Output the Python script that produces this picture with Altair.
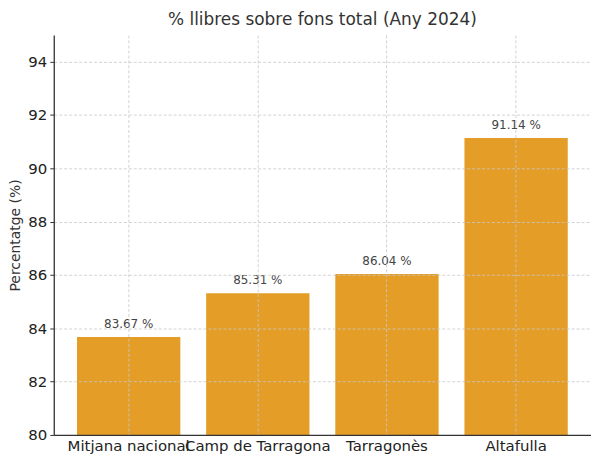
import altair as alt
import pandas as pd

categories = ["Mitjana nacional", "Camp de Tarragona", "Tarragonès", "Altafulla"]
values = [83.67, 85.31, 86.04, 91.14]
y_ticks = [80, 82, 84, 86, 88, 90, 92, 94]

df = pd.DataFrame({"cat": categories, "val": values})

FONT = "DejaVu Sans"
BAR = "#E49E27"
GRID = "#c8c8c8"

x = alt.X("cat:N", sort=categories, title=None,
          scale=alt.Scale(paddingInner=0.2, paddingOuter=0.18),
          axis=alt.Axis(labelAngle=0, labelFont=FONT, labelFontSize=15, labelColor="#222",
                        labelPadding=4, tickSize=0, bandPosition=0.5,
                        grid=True, gridDash=[3, 2], gridColor=GRID, gridWidth=0.8,
                        domainColor="#333", domainWidth=1.3, zindex=1))
y = alt.Y("val:Q", title="Percentatge (%)",
          scale=alt.Scale(domain=[80, 95], nice=False, zero=False),
          axis=alt.Axis(values=y_ticks, labelFont=FONT, labelFontSize=15, labelColor="#222",
                        titleFont=FONT, titleFontSize=14, titleFontWeight="normal", titleColor="#333",
                        titlePadding=5, tickSize=4, tickColor="#333", labelPadding=3,
                        grid=True, gridDash=[3, 2], gridColor=GRID, gridWidth=0.8,
                        domainColor="#333", domainWidth=1.3, zindex=1))

bars = alt.Chart(df).mark_bar(color=BAR).encode(x=x, y=y, y2=alt.datum(80))

text = alt.Chart(df).transform_calculate(
    label="format(datum.val, '.2f') + ' %'"
).mark_text(font=FONT, fontSize=12, color="#444", baseline="bottom", dy=-6).encode(
    x=alt.X("cat:N", sort=categories),
    y=alt.Y("val:Q"),
    text="label:N",
)

chart = alt.layer(bars, text).properties(
    width=540, height=402,
    padding={"left": 0, "top": 2, "right": 0, "bottom": 0},
    title=alt.TitleParams("% llibres sobre fons total (Any 2024)", font=FONT, fontSize=17,
                          fontWeight="normal", color="#333", offset=6),
).configure_view(stroke=None)

chart.save("out.html", embed_options={"renderer": "svg", "actions": False})
